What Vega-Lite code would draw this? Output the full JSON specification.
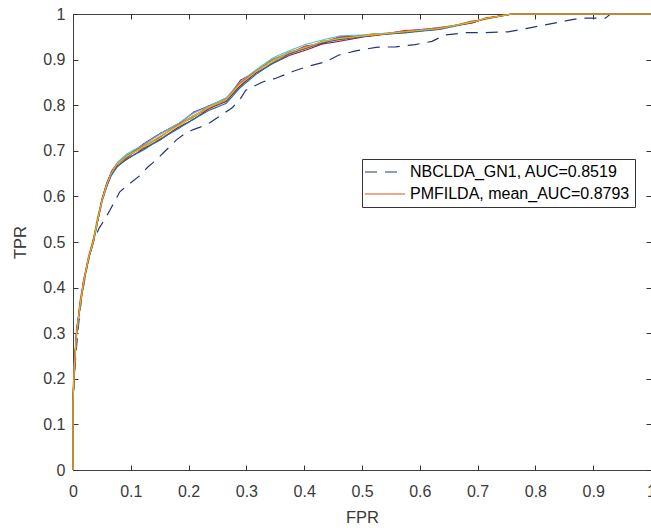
{
  "$schema": "https://vega.github.io/schema/vega-lite/v6.json",
  "width": 578,
  "height": 456,
  "autosize": {"type": "none"},
  "padding": {"left": 73, "top": 14, "right": 0, "bottom": 58},
  "background": "white",
  "config": {
    "font": "Liberation Sans",
    "view": {"stroke": "#404040", "strokeWidth": 1},
    "axis": {
      "domain": false, "tickColor": "#333333", "labelColor": "#3a3a3a", "titleColor": "#3a3a3a",
      "labelFont": "Liberation Sans", "titleFont": "Liberation Sans", "labelFontSize": 16, "titleFontSize": 16.5,
      "titleFontWeight": "normal", "grid": false, "tickSize": 5, "offset": -5, "tickWidth": 1, "labelFlush": false
    }
  },
  "data": {"values": [
    {"run":"NBCLDA_GN1, AUC=0.8519","fpr":0,"tpr":0},{"run":"NBCLDA_GN1, AUC=0.8519","fpr":0,"tpr":0.14},{"run":"NBCLDA_GN1, AUC=0.8519","fpr":0.003,"tpr":0.22},{"run":"NBCLDA_GN1, AUC=0.8519","fpr":0.008,"tpr":0.3},{"run":"NBCLDA_GN1, AUC=0.8519","fpr":0.015,"tpr":0.38},{"run":"NBCLDA_GN1, AUC=0.8519","fpr":0.025,"tpr":0.45},{"run":"NBCLDA_GN1, AUC=0.8519","fpr":0.035,"tpr":0.5},{"run":"NBCLDA_GN1, AUC=0.8519","fpr":0.045,"tpr":0.53},{"run":"NBCLDA_GN1, AUC=0.8519","fpr":0.055,"tpr":0.55},{"run":"NBCLDA_GN1, AUC=0.8519","fpr":0.064,"tpr":0.57},{"run":"NBCLDA_GN1, AUC=0.8519","fpr":0.081,"tpr":0.61},{"run":"NBCLDA_GN1, AUC=0.8519","fpr":0.1,"tpr":0.63},{"run":"NBCLDA_GN1, AUC=0.8519","fpr":0.115,"tpr":0.645},{"run":"NBCLDA_GN1, AUC=0.8519","fpr":0.13,"tpr":0.665},{"run":"NBCLDA_GN1, AUC=0.8519","fpr":0.144,"tpr":0.68},{"run":"NBCLDA_GN1, AUC=0.8519","fpr":0.16,"tpr":0.7},{"run":"NBCLDA_GN1, AUC=0.8519","fpr":0.179,"tpr":0.724},{"run":"NBCLDA_GN1, AUC=0.8519","fpr":0.193,"tpr":0.737},{"run":"NBCLDA_GN1, AUC=0.8519","fpr":0.207,"tpr":0.746},{"run":"NBCLDA_GN1, AUC=0.8519","fpr":0.22,"tpr":0.752},{"run":"NBCLDA_GN1, AUC=0.8519","fpr":0.236,"tpr":0.761},{"run":"NBCLDA_GN1, AUC=0.8519","fpr":0.259,"tpr":0.78},{"run":"NBCLDA_GN1, AUC=0.8519","fpr":0.276,"tpr":0.795},{"run":"NBCLDA_GN1, AUC=0.8519","fpr":0.29,"tpr":0.815},{"run":"NBCLDA_GN1, AUC=0.8519","fpr":0.299,"tpr":0.833},{"run":"NBCLDA_GN1, AUC=0.8519","fpr":0.328,"tpr":0.851},{"run":"NBCLDA_GN1, AUC=0.8519","fpr":0.351,"tpr":0.859},{"run":"NBCLDA_GN1, AUC=0.8519","fpr":0.38,"tpr":0.874},{"run":"NBCLDA_GN1, AUC=0.8519","fpr":0.409,"tpr":0.886},{"run":"NBCLDA_GN1, AUC=0.8519","fpr":0.437,"tpr":0.895},{"run":"NBCLDA_GN1, AUC=0.8519","fpr":0.46,"tpr":0.91},{"run":"NBCLDA_GN1, AUC=0.8519","fpr":0.489,"tpr":0.919},{"run":"NBCLDA_GN1, AUC=0.8519","fpr":0.524,"tpr":0.927},{"run":"NBCLDA_GN1, AUC=0.8519","fpr":0.558,"tpr":0.928},{"run":"NBCLDA_GN1, AUC=0.8519","fpr":0.592,"tpr":0.933},{"run":"NBCLDA_GN1, AUC=0.8519","fpr":0.621,"tpr":0.94},{"run":"NBCLDA_GN1, AUC=0.8519","fpr":0.644,"tpr":0.954},{"run":"NBCLDA_GN1, AUC=0.8519","fpr":0.679,"tpr":0.959},{"run":"NBCLDA_GN1, AUC=0.8519","fpr":0.713,"tpr":0.959},{"run":"NBCLDA_GN1, AUC=0.8519","fpr":0.753,"tpr":0.961},{"run":"NBCLDA_GN1, AUC=0.8519","fpr":0.788,"tpr":0.969},{"run":"NBCLDA_GN1, AUC=0.8519","fpr":0.817,"tpr":0.976},{"run":"NBCLDA_GN1, AUC=0.8519","fpr":0.852,"tpr":0.985},{"run":"NBCLDA_GN1, AUC=0.8519","fpr":0.879,"tpr":0.991},{"run":"NBCLDA_GN1, AUC=0.8519","fpr":0.921,"tpr":0.991},{"run":"NBCLDA_GN1, AUC=0.8519","fpr":0.93,"tpr":1},{"run":"NBCLDA_GN1, AUC=0.8519","fpr":1,"tpr":1},

    {"run":"PMFILDA, mean_AUC=0.8793","fpr":0,"tpr":0},{"run":"PMFILDA, mean_AUC=0.8793","fpr":0,"tpr":0.14},{"run":"PMFILDA, mean_AUC=0.8793","fpr":0.002,"tpr":0.23},{"run":"PMFILDA, mean_AUC=0.8793","fpr":0.007,"tpr":0.31},{"run":"PMFILDA, mean_AUC=0.8793","fpr":0.012,"tpr":0.37},{"run":"PMFILDA, mean_AUC=0.8793","fpr":0.019,"tpr":0.42},{"run":"PMFILDA, mean_AUC=0.8793","fpr":0.027,"tpr":0.47},{"run":"PMFILDA, mean_AUC=0.8793","fpr":0.036,"tpr":0.51},{"run":"PMFILDA, mean_AUC=0.8793","fpr":0.044,"tpr":0.555},{"run":"PMFILDA, mean_AUC=0.8793","fpr":0.051,"tpr":0.595},{"run":"PMFILDA, mean_AUC=0.8793","fpr":0.059,"tpr":0.63},{"run":"PMFILDA, mean_AUC=0.8793","fpr":0.068,"tpr":0.655},{"run":"PMFILDA, mean_AUC=0.8793","fpr":0.078,"tpr":0.673},{"run":"PMFILDA, mean_AUC=0.8793","fpr":0.094,"tpr":0.685},{"run":"PMFILDA, mean_AUC=0.8793","fpr":0.12,"tpr":0.712},{"run":"PMFILDA, mean_AUC=0.8793","fpr":0.148,"tpr":0.735},{"run":"PMFILDA, mean_AUC=0.8793","fpr":0.178,"tpr":0.757},{"run":"PMFILDA, mean_AUC=0.8793","fpr":0.205,"tpr":0.771},{"run":"PMFILDA, mean_AUC=0.8793","fpr":0.235,"tpr":0.799},{"run":"PMFILDA, mean_AUC=0.8793","fpr":0.264,"tpr":0.809},{"run":"PMFILDA, mean_AUC=0.8793","fpr":0.287,"tpr":0.848},{"run":"PMFILDA, mean_AUC=0.8793","fpr":0.315,"tpr":0.872},{"run":"PMFILDA, mean_AUC=0.8793","fpr":0.344,"tpr":0.9},{"run":"PMFILDA, mean_AUC=0.8793","fpr":0.373,"tpr":0.913},{"run":"PMFILDA, mean_AUC=0.8793","fpr":0.402,"tpr":0.93},{"run":"PMFILDA, mean_AUC=0.8793","fpr":0.43,"tpr":0.935},{"run":"PMFILDA, mean_AUC=0.8793","fpr":0.459,"tpr":0.949},{"run":"PMFILDA, mean_AUC=0.8793","fpr":0.515,"tpr":0.951},{"run":"PMFILDA, mean_AUC=0.8793","fpr":0.574,"tpr":0.964},{"run":"PMFILDA, mean_AUC=0.8793","fpr":0.632,"tpr":0.966},{"run":"PMFILDA, mean_AUC=0.8793","fpr":0.688,"tpr":0.984},{"run":"PMFILDA, mean_AUC=0.8793","fpr":0.712,"tpr":0.988},{"run":"PMFILDA, mean_AUC=0.8793","fpr":0.758,"tpr":1},{"run":"PMFILDA, mean_AUC=0.8793","fpr":1,"tpr":1},

    {"run":"r2","fpr":0,"tpr":0},{"run":"r2","fpr":0,"tpr":0.16},{"run":"r2","fpr":0.001,"tpr":0.21},{"run":"r2","fpr":0.005,"tpr":0.29},{"run":"r2","fpr":0.011,"tpr":0.35},{"run":"r2","fpr":0.017,"tpr":0.4},{"run":"r2","fpr":0.025,"tpr":0.455},{"run":"r2","fpr":0.034,"tpr":0.495},{"run":"r2","fpr":0.042,"tpr":0.545},{"run":"r2","fpr":0.049,"tpr":0.585},{"run":"r2","fpr":0.057,"tpr":0.62},{"run":"r2","fpr":0.065,"tpr":0.645},{"run":"r2","fpr":0.075,"tpr":0.668},{"run":"r2","fpr":0.092,"tpr":0.69},{"run":"r2","fpr":0.122,"tpr":0.705},{"run":"r2","fpr":0.151,"tpr":0.727},{"run":"r2","fpr":0.18,"tpr":0.75},{"run":"r2","fpr":0.208,"tpr":0.777},{"run":"r2","fpr":0.237,"tpr":0.792},{"run":"r2","fpr":0.266,"tpr":0.815},{"run":"r2","fpr":0.289,"tpr":0.842},{"run":"r2","fpr":0.318,"tpr":0.877},{"run":"r2","fpr":0.346,"tpr":0.894},{"run":"r2","fpr":0.375,"tpr":0.918},{"run":"r2","fpr":0.404,"tpr":0.924},{"run":"r2","fpr":0.432,"tpr":0.941},{"run":"r2","fpr":0.461,"tpr":0.943},{"run":"r2","fpr":0.518,"tpr":0.957},{"run":"r2","fpr":0.576,"tpr":0.958},{"run":"r2","fpr":0.634,"tpr":0.971},{"run":"r2","fpr":0.691,"tpr":0.98},{"run":"r2","fpr":0.714,"tpr":0.992},{"run":"r2","fpr":0.761,"tpr":1},{"run":"r2","fpr":1,"tpr":1},

    {"run":"r3","fpr":0,"tpr":0},{"run":"r3","fpr":0,"tpr":0.15},{"run":"r3","fpr":0.003,"tpr":0.22},{"run":"r3","fpr":0.006,"tpr":0.31},{"run":"r3","fpr":0.013,"tpr":0.36},{"run":"r3","fpr":0.018,"tpr":0.415},{"run":"r3","fpr":0.027,"tpr":0.462},{"run":"r3","fpr":0.035,"tpr":0.505},{"run":"r3","fpr":0.043,"tpr":0.548},{"run":"r3","fpr":0.05,"tpr":0.592},{"run":"r3","fpr":0.058,"tpr":0.628},{"run":"r3","fpr":0.067,"tpr":0.656},{"run":"r3","fpr":0.077,"tpr":0.674},{"run":"r3","fpr":0.095,"tpr":0.69},{"run":"r3","fpr":0.123,"tpr":0.716},{"run":"r3","fpr":0.152,"tpr":0.739},{"run":"r3","fpr":0.181,"tpr":0.757},{"run":"r3","fpr":0.209,"tpr":0.785},{"run":"r3","fpr":0.238,"tpr":0.8},{"run":"r3","fpr":0.267,"tpr":0.816},{"run":"r3","fpr":0.29,"tpr":0.855},{"run":"r3","fpr":0.319,"tpr":0.876},{"run":"r3","fpr":0.347,"tpr":0.9},{"run":"r3","fpr":0.376,"tpr":0.914},{"run":"r3","fpr":0.405,"tpr":0.929},{"run":"r3","fpr":0.433,"tpr":0.936},{"run":"r3","fpr":0.462,"tpr":0.95},{"run":"r3","fpr":0.519,"tpr":0.953},{"run":"r3","fpr":0.577,"tpr":0.963},{"run":"r3","fpr":0.635,"tpr":0.97},{"run":"r3","fpr":0.692,"tpr":0.981},{"run":"r3","fpr":0.715,"tpr":0.991},{"run":"r3","fpr":0.762,"tpr":1},{"run":"r3","fpr":1,"tpr":1},

    {"run":"r4","fpr":0,"tpr":0},{"run":"r4","fpr":0,"tpr":0.14},{"run":"r4","fpr":0.002,"tpr":0.21},{"run":"r4","fpr":0.006,"tpr":0.295},{"run":"r4","fpr":0.012,"tpr":0.355},{"run":"r4","fpr":0.018,"tpr":0.405},{"run":"r4","fpr":0.026,"tpr":0.458},{"run":"r4","fpr":0.034,"tpr":0.498},{"run":"r4","fpr":0.042,"tpr":0.552},{"run":"r4","fpr":0.049,"tpr":0.588},{"run":"r4","fpr":0.057,"tpr":0.622},{"run":"r4","fpr":0.066,"tpr":0.648},{"run":"r4","fpr":0.076,"tpr":0.672},{"run":"r4","fpr":0.092,"tpr":0.691},{"run":"r4","fpr":0.12,"tpr":0.706},{"run":"r4","fpr":0.149,"tpr":0.729},{"run":"r4","fpr":0.178,"tpr":0.755},{"run":"r4","fpr":0.206,"tpr":0.772},{"run":"r4","fpr":0.235,"tpr":0.797},{"run":"r4","fpr":0.264,"tpr":0.814},{"run":"r4","fpr":0.288,"tpr":0.84},{"run":"r4","fpr":0.316,"tpr":0.875},{"run":"r4","fpr":0.345,"tpr":0.899},{"run":"r4","fpr":0.374,"tpr":0.916},{"run":"r4","fpr":0.403,"tpr":0.925},{"run":"r4","fpr":0.431,"tpr":0.94},{"run":"r4","fpr":0.46,"tpr":0.944},{"run":"r4","fpr":0.517,"tpr":0.956},{"run":"r4","fpr":0.575,"tpr":0.96},{"run":"r4","fpr":0.633,"tpr":0.967},{"run":"r4","fpr":0.69,"tpr":0.983},{"run":"r4","fpr":0.713,"tpr":0.989},{"run":"r4","fpr":0.759,"tpr":1},{"run":"r4","fpr":1,"tpr":1},

    {"run":"r5","fpr":0,"tpr":0},{"run":"r5","fpr":0,"tpr":0.15},{"run":"r5","fpr":0.002,"tpr":0.225},{"run":"r5","fpr":0.007,"tpr":0.305},{"run":"r5","fpr":0.013,"tpr":0.365},{"run":"r5","fpr":0.019,"tpr":0.412},{"run":"r5","fpr":0.027,"tpr":0.465},{"run":"r5","fpr":0.036,"tpr":0.502},{"run":"r5","fpr":0.044,"tpr":0.552},{"run":"r5","fpr":0.051,"tpr":0.59},{"run":"r5","fpr":0.059,"tpr":0.624},{"run":"r5","fpr":0.067,"tpr":0.652},{"run":"r5","fpr":0.077,"tpr":0.675},{"run":"r5","fpr":0.094,"tpr":0.694},{"run":"r5","fpr":0.122,"tpr":0.713},{"run":"r5","fpr":0.151,"tpr":0.737},{"run":"r5","fpr":0.18,"tpr":0.758},{"run":"r5","fpr":0.208,"tpr":0.782},{"run":"r5","fpr":0.237,"tpr":0.799},{"run":"r5","fpr":0.266,"tpr":0.817},{"run":"r5","fpr":0.289,"tpr":0.85},{"run":"r5","fpr":0.318,"tpr":0.879},{"run":"r5","fpr":0.346,"tpr":0.904},{"run":"r5","fpr":0.375,"tpr":0.92},{"run":"r5","fpr":0.404,"tpr":0.934},{"run":"r5","fpr":0.432,"tpr":0.943},{"run":"r5","fpr":0.461,"tpr":0.952},{"run":"r5","fpr":0.518,"tpr":0.955},{"run":"r5","fpr":0.576,"tpr":0.962},{"run":"r5","fpr":0.634,"tpr":0.969},{"run":"r5","fpr":0.691,"tpr":0.982},{"run":"r5","fpr":0.714,"tpr":0.99},{"run":"r5","fpr":0.76,"tpr":1},{"run":"r5","fpr":1,"tpr":1},

    {"run":"r6","fpr":0,"tpr":0},{"run":"r6","fpr":0,"tpr":0.16},{"run":"r6","fpr":0.002,"tpr":0.23},{"run":"r6","fpr":0.006,"tpr":0.3},{"run":"r6","fpr":0.012,"tpr":0.362},{"run":"r6","fpr":0.018,"tpr":0.408},{"run":"r6","fpr":0.026,"tpr":0.46},{"run":"r6","fpr":0.035,"tpr":0.5},{"run":"r6","fpr":0.043,"tpr":0.55},{"run":"r6","fpr":0.05,"tpr":0.594},{"run":"r6","fpr":0.058,"tpr":0.626},{"run":"r6","fpr":0.066,"tpr":0.65},{"run":"r6","fpr":0.076,"tpr":0.666},{"run":"r6","fpr":0.093,"tpr":0.681},{"run":"r6","fpr":0.121,"tpr":0.704},{"run":"r6","fpr":0.15,"tpr":0.723},{"run":"r6","fpr":0.179,"tpr":0.749},{"run":"r6","fpr":0.207,"tpr":0.768},{"run":"r6","fpr":0.236,"tpr":0.793},{"run":"r6","fpr":0.265,"tpr":0.808},{"run":"r6","fpr":0.288,"tpr":0.841},{"run":"r6","fpr":0.317,"tpr":0.871},{"run":"r6","fpr":0.345,"tpr":0.891},{"run":"r6","fpr":0.374,"tpr":0.909},{"run":"r6","fpr":0.403,"tpr":0.921},{"run":"r6","fpr":0.431,"tpr":0.934},{"run":"r6","fpr":0.46,"tpr":0.94},{"run":"r6","fpr":0.517,"tpr":0.953},{"run":"r6","fpr":0.575,"tpr":0.96},{"run":"r6","fpr":0.633,"tpr":0.968},{"run":"r6","fpr":0.69,"tpr":0.981},{"run":"r6","fpr":0.713,"tpr":0.99},{"run":"r6","fpr":0.76,"tpr":1},{"run":"r6","fpr":1,"tpr":1},

    {"run":"r7","fpr":0,"tpr":0},{"run":"r7","fpr":0,"tpr":0.15},{"run":"r7","fpr":0.002,"tpr":0.22},{"run":"r7","fpr":0.006,"tpr":0.3},{"run":"r7","fpr":0.012,"tpr":0.358},{"run":"r7","fpr":0.018,"tpr":0.41},{"run":"r7","fpr":0.026,"tpr":0.46},{"run":"r7","fpr":0.035,"tpr":0.498},{"run":"r7","fpr":0.043,"tpr":0.548},{"run":"r7","fpr":0.05,"tpr":0.59},{"run":"r7","fpr":0.058,"tpr":0.62},{"run":"r7","fpr":0.066,"tpr":0.645},{"run":"r7","fpr":0.076,"tpr":0.664},{"run":"r7","fpr":0.093,"tpr":0.683},{"run":"r7","fpr":0.121,"tpr":0.701},{"run":"r7","fpr":0.15,"tpr":0.725},{"run":"r7","fpr":0.179,"tpr":0.746},{"run":"r7","fpr":0.207,"tpr":0.768},{"run":"r7","fpr":0.236,"tpr":0.789},{"run":"r7","fpr":0.265,"tpr":0.804},{"run":"r7","fpr":0.288,"tpr":0.837},{"run":"r7","fpr":0.317,"tpr":0.868},{"run":"r7","fpr":0.345,"tpr":0.892},{"run":"r7","fpr":0.374,"tpr":0.912},{"run":"r7","fpr":0.403,"tpr":0.925},{"run":"r7","fpr":0.431,"tpr":0.936},{"run":"r7","fpr":0.46,"tpr":0.944},{"run":"r7","fpr":0.517,"tpr":0.953},{"run":"r7","fpr":0.575,"tpr":0.959},{"run":"r7","fpr":0.633,"tpr":0.966},{"run":"r7","fpr":0.69,"tpr":0.981},{"run":"r7","fpr":0.713,"tpr":0.99},{"run":"r7","fpr":0.76,"tpr":1},{"run":"r7","fpr":1,"tpr":1},

    {"run":"r8","fpr":0,"tpr":0},{"run":"r8","fpr":0,"tpr":0.15},{"run":"r8","fpr":0.002,"tpr":0.215},{"run":"r8","fpr":0.006,"tpr":0.3},{"run":"r8","fpr":0.012,"tpr":0.36},{"run":"r8","fpr":0.018,"tpr":0.41},{"run":"r8","fpr":0.026,"tpr":0.459},{"run":"r8","fpr":0.035,"tpr":0.5},{"run":"r8","fpr":0.043,"tpr":0.549},{"run":"r8","fpr":0.05,"tpr":0.589},{"run":"r8","fpr":0.058,"tpr":0.623},{"run":"r8","fpr":0.066,"tpr":0.651},{"run":"r8","fpr":0.076,"tpr":0.67},{"run":"r8","fpr":0.093,"tpr":0.686},{"run":"r8","fpr":0.121,"tpr":0.71},{"run":"r8","fpr":0.15,"tpr":0.73},{"run":"r8","fpr":0.179,"tpr":0.754},{"run":"r8","fpr":0.207,"tpr":0.776},{"run":"r8","fpr":0.236,"tpr":0.794},{"run":"r8","fpr":0.265,"tpr":0.812},{"run":"r8","fpr":0.288,"tpr":0.847},{"run":"r8","fpr":0.317,"tpr":0.875},{"run":"r8","fpr":0.345,"tpr":0.897},{"run":"r8","fpr":0.374,"tpr":0.915},{"run":"r8","fpr":0.403,"tpr":0.927},{"run":"r8","fpr":0.431,"tpr":0.938},{"run":"r8","fpr":0.46,"tpr":0.948},{"run":"r8","fpr":0.517,"tpr":0.953},{"run":"r8","fpr":0.575,"tpr":0.962},{"run":"r8","fpr":0.633,"tpr":0.968},{"run":"r8","fpr":0.69,"tpr":0.982},{"run":"r8","fpr":0.713,"tpr":0.99},{"run":"r8","fpr":0.76,"tpr":1},{"run":"r8","fpr":1,"tpr":1},

    {"run":"r9","fpr":0,"tpr":0},{"run":"r9","fpr":0,"tpr":0.15},{"run":"r9","fpr":0.002,"tpr":0.22},{"run":"r9","fpr":0.006,"tpr":0.3},{"run":"r9","fpr":0.012,"tpr":0.36},{"run":"r9","fpr":0.018,"tpr":0.41},{"run":"r9","fpr":0.026,"tpr":0.461},{"run":"r9","fpr":0.035,"tpr":0.501},{"run":"r9","fpr":0.043,"tpr":0.551},{"run":"r9","fpr":0.05,"tpr":0.591},{"run":"r9","fpr":0.058,"tpr":0.625},{"run":"r9","fpr":0.066,"tpr":0.65},{"run":"r9","fpr":0.076,"tpr":0.671},{"run":"r9","fpr":0.093,"tpr":0.688},{"run":"r9","fpr":0.121,"tpr":0.708},{"run":"r9","fpr":0.15,"tpr":0.732},{"run":"r9","fpr":0.179,"tpr":0.753},{"run":"r9","fpr":0.207,"tpr":0.775},{"run":"r9","fpr":0.236,"tpr":0.796},{"run":"r9","fpr":0.265,"tpr":0.812},{"run":"r9","fpr":0.288,"tpr":0.845},{"run":"r9","fpr":0.317,"tpr":0.874},{"run":"r9","fpr":0.345,"tpr":0.897},{"run":"r9","fpr":0.374,"tpr":0.915},{"run":"r9","fpr":0.403,"tpr":0.927},{"run":"r9","fpr":0.431,"tpr":0.939},{"run":"r9","fpr":0.46,"tpr":0.946},{"run":"r9","fpr":0.517,"tpr":0.954},{"run":"r9","fpr":0.575,"tpr":0.961},{"run":"r9","fpr":0.633,"tpr":0.968},{"run":"r9","fpr":0.69,"tpr":0.982},{"run":"r9","fpr":0.713,"tpr":0.99},{"run":"r9","fpr":0.76,"tpr":1},{"run":"r9","fpr":1,"tpr":1}
  ]},
  "layer": [
    {
      "transform": [{"filter": "datum.run == 'NBCLDA_GN1, AUC=0.8519'"}],
      "mark": {"type": "line", "strokeWidth": 1.2},
      "encoding": {
        "x": {"field": "fpr", "type": "quantitative", "scale": {"domain": [0, 1], "nice": false, "zero": false},
              "axis": {"orient": "bottom", "values": [0,0.1,0.2,0.3,0.4,0.5,0.6,0.7,0.8,0.9,1], "format": "~g", "labelPadding": 13, "title": "FPR", "titlePadding": 10}},
        "y": {"field": "tpr", "type": "quantitative", "scale": {"domain": [0, 1], "nice": false, "zero": false},
              "axis": {"orient": "left", "values": [0,0.1,0.2,0.3,0.4,0.5,0.6,0.7,0.8,0.9,1], "format": "~g", "labelPadding": 8, "title": "TPR", "titlePadding": 14}},
        "color": {"field": "run", "type": "nominal",
          "scale": {"domain": ["NBCLDA_GN1, AUC=0.8519","PMFILDA, mean_AUC=0.8793","r2","r3","r4","r5","r6","r7","r8","r9"],
                    "range": ["#25337d","#D95319","#EDB120","#7E2F8E","#77AC30","#4DBEEE","#A2142F","#0072BD","#D95319","#EDB120"]},
          "legend": {"values": ["NBCLDA_GN1, AUC=0.8519","PMFILDA, mean_AUC=0.8793"], "title": null, "orient": "none", "legendX": 289, "legendY": 145,
                     "fillColor": "white", "strokeColor": "#333333", "padding": 5, "symbolType": "M-4,0H4", "symbolSize": 100, "symbolStrokeWidth": 1,
                     "symbolOffset": 10, "labelOffset": 17, "labelFontSize": 16, "labelColor": "#000000", "rowPadding": 6, "labelLimit": 400}},
        "strokeDash": {"field": "run", "type": "nominal",
          "scale": {"domain": ["NBCLDA_GN1, AUC=0.8519","PMFILDA, mean_AUC=0.8793","r2","r3","r4","r5","r6","r7","r8","r9"],
                    "range": [[12,8],[1,0],[1,0],[1,0],[1,0],[1,0],[1,0],[1,0],[1,0],[1,0]]},
          "legend": {"values": ["NBCLDA_GN1, AUC=0.8519","PMFILDA, mean_AUC=0.8793"], "title": null, "orient": "none", "legendX": 289, "legendY": 145,
                     "fillColor": "white", "strokeColor": "#333333", "padding": 5, "symbolType": "M-4,0H4", "symbolSize": 100, "symbolStrokeWidth": 1,
                     "symbolOffset": 10, "labelOffset": 17, "labelFontSize": 16, "labelColor": "#000000", "rowPadding": 6, "labelLimit": 400}},
        "order": {"value": null}
      }
    },
    {
      "transform": [{"filter": "datum.run != 'NBCLDA_GN1, AUC=0.8519'"}],
      "mark": {"type": "line", "strokeWidth": 1.1},
      "encoding": {
        "x": {"field": "fpr", "type": "quantitative",
              "axis": {"orient": "top", "values": [0,0.1,0.2,0.3,0.4,0.5,0.6,0.7,0.8,0.9,1], "labels": false, "title": null}},
        "y": {"field": "tpr", "type": "quantitative",
              "axis": {"orient": "right", "values": [0,0.1,0.2,0.3,0.4,0.5,0.6,0.7,0.8,0.9,1], "labels": false, "title": null}},
        "color": {"field": "run", "type": "nominal"},
        "strokeDash": {"field": "run", "type": "nominal"},
        "order": {"value": null}
      }
    }
  ],
  "resolve": {"axis": {"x": "independent", "y": "independent"}}
}
